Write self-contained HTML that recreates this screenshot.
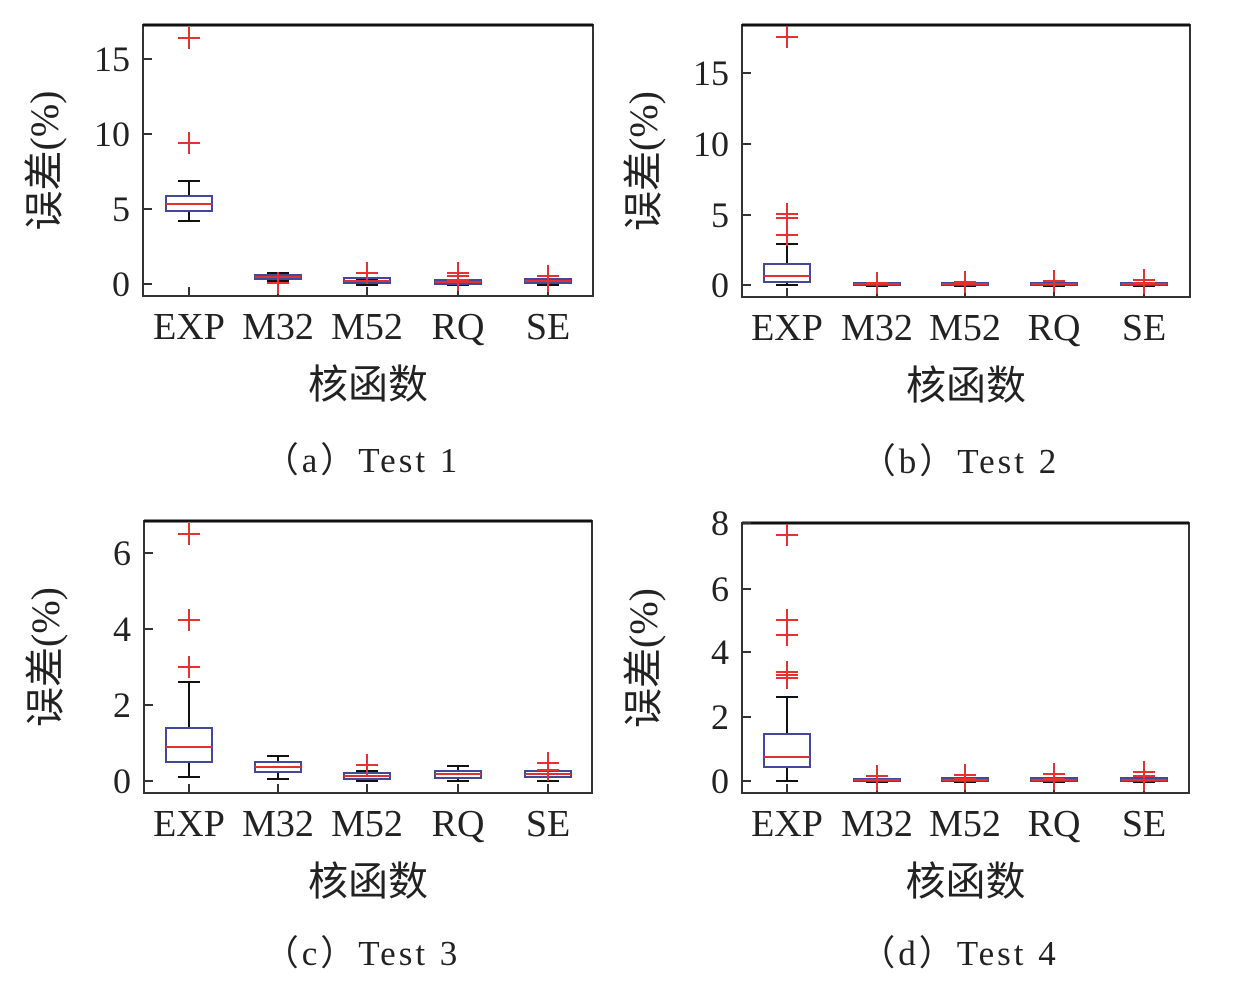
<!DOCTYPE html>
<html><head><meta charset="utf-8"><style>
html,body{margin:0;padding:0;background:#fff;}
svg{display:block;}
text{font-family:"Liberation Serif","Noto Serif CJK SC",serif;fill:#222;}
.cj{font-family:"Liberation Serif","Noto Sans CJK SC",sans-serif;}
</style></head><body>
<svg id="s" width="1242" height="995" xmlns="http://www.w3.org/2000/svg"></svg>
<script>
const s=document.getElementById('s');let h='';
const names=['EXP','M32','M52','RQ','SE'];
function panel(L,R,T,B,ticks,cats,boxes,cap,dy){
  h+=`<rect x="${L}" y="${T}" width="${R-L}" height="${B-T}" fill="none" stroke="#333" stroke-width="2"/>`;
  h+=`<line x1="${L}" y1="${T}" x2="${R}" y2="${T}" stroke="#111" stroke-width="3"/>`;
  ticks.forEach(t=>{h+=`<line x1="${L}" y1="${t[1]}" x2="${L+9}" y2="${t[1]}" stroke="#333" stroke-width="2"/>`;
    h+=`<text x="${L-13}" y="${t[1]+12}" font-size="36" text-anchor="end">${t[0]}</text>`;});
  cats.forEach((x,i)=>{h+=`<line x1="${x}" y1="${B}" x2="${x}" y2="${B-9}" stroke="#333" stroke-width="2"/>`;
    h+=`<text x="${x}" y="${B+43}" font-size="38" text-anchor="middle">${names[i]}</text>`;});
  h+=`<text class="cj" x="${(L+R)/2}" y="${B+102}" font-size="40" text-anchor="middle">核函数</text>`;
  h+=`<text class="cj" transform="translate(${L-85},${(T+B)/2}) rotate(-90)" font-size="40" text-anchor="middle">误差(%)</text>`;
  h+=`<text class="cj" x="${(L+R)/2-6}" y="${B+176+dy}" font-size="35" text-anchor="middle" letter-spacing="3">（${cap[0]}）Test ${cap[1]}</text>`;
  boxes.forEach((b,i)=>{const x=cats[i];const [wt,q3,md,q1,wb,outs]=b;const w=b[6]||23;
    h+=`<line x1="${x}" y1="${wt}" x2="${x}" y2="${q3}" stroke="#111" stroke-width="2"/>`;
    h+=`<line x1="${x}" y1="${q1}" x2="${x}" y2="${wb}" stroke="#111" stroke-width="2"/>`;
    h+=`<line x1="${x-11}" y1="${wt}" x2="${x+11}" y2="${wt}" stroke="#111" stroke-width="2"/>`;
    h+=`<line x1="${x-11}" y1="${wb}" x2="${x+11}" y2="${wb}" stroke="#111" stroke-width="2"/>`;
    h+=`<rect x="${x-w}" y="${q3}" width="${2*w}" height="${Math.max(q1-q3,2)}" fill="none" stroke="#44489a" stroke-width="2"/>`;
    h+=`<line x1="${x-w}" y1="${md}" x2="${x+w}" y2="${md}" stroke="#e03030" stroke-width="2"/>`;
    outs.forEach(o=>{h+=`<line x1="${x-11}" y1="${o}" x2="${x+11}" y2="${o}" stroke="#e83030" stroke-width="2"/><line x1="${x}" y1="${o-11}" x2="${x}" y2="${o+11}" stroke="#e83030" stroke-width="2"/>`;});
  });
}
const ca=[189,278,367,458,548], cb=[787,877,965,1054,1144];
panel(143,593,25,296,[['15',59],['10',134],['5',209],['0',284]],ca,[
 [181,196,204,211,221,[38,143]],
 [273,275,277,279,281,[283]],
 [280,278,281,283,285,[273]],
 [281,280,282,284,285,[273,276,280]],
 [280,279,281,283,285,[276,281]]],['a','1'],0);
panel(742,1190,25,297,[['15',73],['10',144],['5',215],['0',285]],cb,[
 [244,264,276,282,285,[37,214,218,235]],
 [284,283,284,285,286,[283]],
 [284,283,284,285,286,[282]],
 [284,283,284,285,286,[281]],
 [284,283,284,285,286,[280,283]]],['b','2'],0);
panel(144,592,521,793,[['6',553],['4',629],['2',705],['0',781]],ca,[
 [682,728,747,762,777,[534,620,667]],
 [756,762,767,772,779,[]],
 [771,773,776,779,781,[765]],
 [766,771,774,778,781,[]],
 [771,771,774,777,781,[763,770]]],['c','3'],-4);
panel(742,1189,523,793,[['8',523],['6',589],['4',652],['2',717],['0',781]],cb,[
 [697,734,757,767,781,[535,620,635,672,675,678]],
 [779,779,780,781,782,[776,780]],
 [779,778,780,781,782,[775,779]],
 [779,778,780,781,782,[774,779]],
 [779,778,780,781,782,[772,776,780]]],['d','4'],-4);
s.innerHTML=h;
</script>
</body></html>
